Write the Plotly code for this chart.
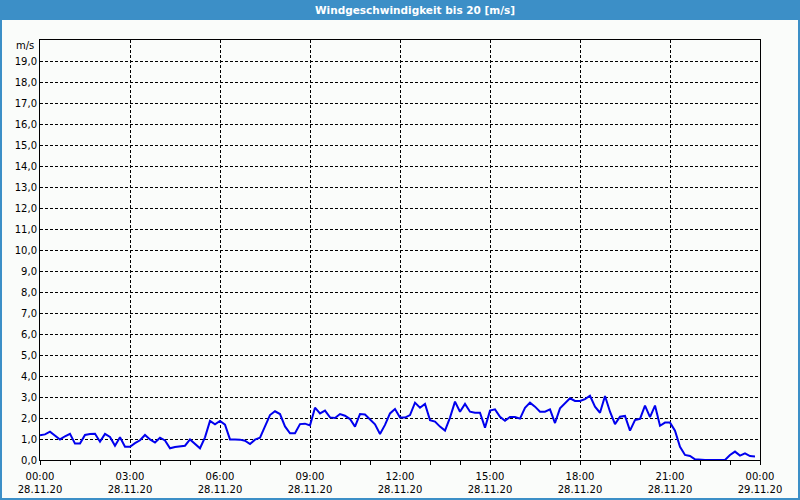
import pandas as pd
import plotly.graph_objects as go

# ---- data ----
start_time = "2020-11-28 00:00"
end_time = "2020-11-29 00:00"
interval = "10min"
wind_speed = [
    1.18, 1.22, 1.35, 1.16, 0.98, 1.13, 1.25, 0.78, 0.78, 1.19,
    1.24, 1.25, 0.87, 1.24, 1.10, 0.68, 1.08, 0.63, 0.63, 0.80,
    0.94, 1.19, 0.98, 0.83, 1.06, 0.93, 0.56, 0.62, 0.64, 0.68,
    0.98, 0.78, 0.56, 1.08, 1.86, 1.70, 1.86, 1.68, 0.98, 0.98,
    0.97, 0.92, 0.76, 0.97, 1.06, 1.60, 2.14, 2.32, 2.19, 1.60,
    1.27, 1.27, 1.71, 1.73, 1.65, 2.49, 2.22, 2.35, 2.03, 2.00,
    2.19, 2.11, 1.95, 1.59, 2.19, 2.17, 1.94, 1.70, 1.24, 1.67,
    2.22, 2.43, 2.02, 2.02, 2.14, 2.73, 2.49, 2.67, 1.90, 1.83,
    1.59, 1.40, 2.02, 2.78, 2.30, 2.67, 2.30, 2.25, 2.25, 1.54,
    2.35, 2.41, 2.06, 1.87, 2.05, 2.05, 1.97, 2.48, 2.73, 2.54,
    2.30, 2.30, 2.41, 1.76, 2.46, 2.70, 2.94, 2.81, 2.81, 2.90,
    3.06, 2.54, 2.25, 3.05, 2.30, 1.71, 2.06, 2.10, 1.40, 1.90,
    1.96, 2.59, 2.04, 2.59, 1.63, 1.78, 1.78, 1.40, 0.63, 0.24,
    0.19, 0.03, 0.00, 0.00, 0.00, 0.00, 0.00, 0.00, 0.24, 0.40,
    0.21, 0.32, 0.19, 0.17,
]
times = pd.date_range(start_time, periods=len(wind_speed), freq=interval)

y_tick_values = list(range(0, 20))
title_text = "Windgeschwindigkeit bis 20 [m/s]"
unit_label = "m/s"
y_range = [0, 20]

W, H = 800, 500
L, R, T, B = 40, 40, 40, 40
pw, ph = W - L - R, H - T - B


def px_x(x):
    return (x - L) / pw


def px_y(y):
    return (H - B - y) / ph


font_family = "DejaVu Sans, Verdana, sans-serif"
blue_frame = "#3c8fc7"
bg = "#fafcfa"

fig = go.Figure()
fig.add_trace(go.Scatter(
    x=times, y=wind_speed, mode="lines",
    line=dict(color="#0000ee", width=2),
    hoverinfo="skip", showlegend=False,
))

fig.update_layout(
    width=W, height=H,
    margin=dict(l=L, r=R, t=T, b=B, pad=0, autoexpand=False),
    paper_bgcolor=blue_frame,
    plot_bgcolor=bg,
    separators=",.",
    font=dict(family=font_family, size=10, color="black"),
    showlegend=False,
    xaxis=dict(
        type="date",
        automargin=False,
        range=[start_time, end_time],
        tickmode="linear",
        tick0=start_time,
        dtick=3 * 3600 * 1000,
        tickformat="%H:%M<br>%d.%m.%y",
        ticks="outside", ticklen=4, tickcolor="black", tickwidth=1,
        ticklabelstandoff=3,
        showgrid=True, gridcolor="black", gridwidth=1, griddash="3px,2px",
        showline=True, linecolor="black", linewidth=1, mirror=True,
        zeroline=False,
        minor=dict(dtick=3600 * 1000, ticks="outside", ticklen=4,
                   tickcolor="black", showgrid=False),
        tickfont=dict(family=font_family, size=10, color="black"),
        fixedrange=True,
    ),
    yaxis=dict(
        automargin=False,
        range=y_range,
        tickmode="array", tickvals=y_tick_values,
        tickformat=".1f",
        ticks="",
        showgrid=True, gridcolor="black", gridwidth=1, griddash="3px,2px",
        showline=True, linecolor="black", linewidth=1, mirror=True,
        zeroline=False,
        tickfont=dict(family=font_family, size=10, color="black"),
        fixedrange=True,
    ),
    shapes=[
        dict(type="rect", xref="paper", yref="paper", layer="below",
             x0=px_x(2), x1=px_x(W - 2), y0=px_y(H - 2), y1=px_y(20),
             fillcolor=bg, line=dict(width=0)),
    ],
    annotations=[
        dict(text=title_text, xref="paper", yref="paper",
             x=px_x(415), y=px_y(10), xanchor="center", yanchor="middle",
             showarrow=False,
             font=dict(family=font_family, size=10.5, color="white", weight="bold")),
        dict(text=unit_label, xref="paper", yref="paper",
             x=px_x(36), y=px_y(46), xanchor="right", yanchor="middle",
             showarrow=False,
             font=dict(family=font_family, size=10, color="black")),
    ],
)

fig.write_html(
    "out.html",
    config={"displayModeBar": False},
    post_script="document.body.style.margin='0';document.body.style.overflow='hidden';",
)
